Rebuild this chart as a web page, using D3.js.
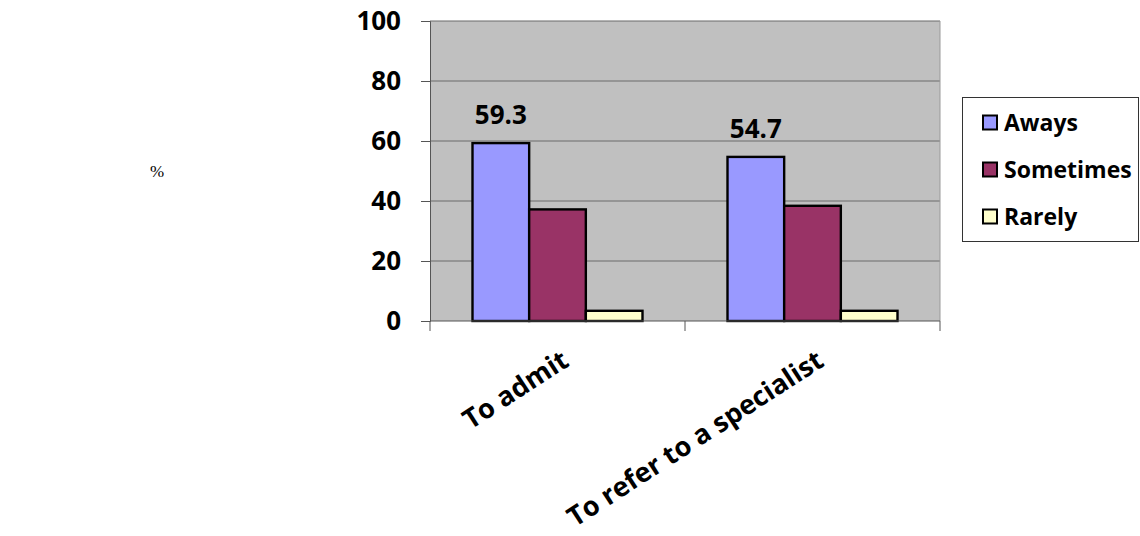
<!DOCTYPE html>
<html><head><meta charset="utf-8">
<script src="https://cdn.jsdelivr.net/npm/d3@7"></script>
<style>body{margin:0;background:#fff}svg{display:block}</style>
</head><body>
<svg id="c" width="1140" height="536"></svg>
<script>
const categories = ["To admit", "To refer to a specialist"];
const seriesNames = ["Aways", "Sometimes", "Rarely"];
const always = [59.3, 54.7];
const sometimes = [37.2, 38.4];
const rarely = [3.4, 3.4];
const yTicks = [0, 20, 40, 60, 80, 100];
const colors = ["#9999FF", "#993366", "#FFFFCC"];
const seriesValues = [always, sometimes, rarely];

const svg = d3.select("#c");
const font = "'Open Sans', sans-serif";
const L = 430, R = 940, T = 21, B = 321;

const y = d3.scaleLinear().domain([0, 100]).range([B, T]);
const x0 = d3.scaleBand().domain(categories).range([L, R]).paddingInner(1/3).paddingOuter(1/6);
const x1 = d3.scaleBand().domain(seriesNames).range([0, x0.bandwidth()]);
const xFull = d3.scaleBand().domain(categories).range([L, R]);

// plot background
svg.append("rect").attr("x", L).attr("y", T).attr("width", R - L).attr("height", B - T).attr("fill", "#C0C0C0");

// gridlines
svg.append("g").selectAll("line").data(yTicks.filter(d => d > 0)).join("line")
  .attr("x1", L).attr("x2", R).attr("y1", d => y(d)).attr("y2", d => y(d))
  .attr("stroke", "#6a6a6a").attr("stroke-width", 1.2);
svg.append("line").attr("x1", R).attr("x2", R).attr("y1", T).attr("y2", B).attr("stroke", "#9a9a9a");

// y axis
const yAxis = svg.append("g").attr("transform", `translate(${L},0)`)
  .call(d3.axisLeft(y).tickValues(yTicks).tickSize(9).tickPadding(20).tickFormat(d3.format("d")));
yAxis.select(".domain").attr("stroke", "#555");
yAxis.selectAll(".tick line").attr("stroke", "#555");
yAxis.selectAll("text").attr("font-family", font).attr("font-weight", "bold").attr("font-size", "26px").attr("fill", "#000");

// bars
const groups = svg.append("g").selectAll("g").data(categories).join("g")
  .attr("transform", d => `translate(${x0(d)},0)`);
groups.selectAll("rect").data((c, i) => seriesNames.map((s, j) => ({ s, v: seriesValues[j][i], j })))
  .join("rect")
  .attr("x", d => x1(d.s)).attr("width", x1.bandwidth())
  .attr("y", d => y(d.v)).attr("height", d => y(0) - y(d.v))
  .attr("fill", d => colors[d.j]).attr("stroke", "#000").attr("stroke-width", 2.4);

// x axis
const xAxis = svg.append("g").attr("transform", `translate(0,${B})`);
xAxis.append("line").attr("x1", L).attr("x2", R).attr("stroke", "#555");
const xTickPos = [L].concat(categories.map(c => xFull(c) + xFull.bandwidth()));
xAxis.selectAll("line.t").data(xTickPos).join("line").attr("class", "t")
  .attr("x1", d => d).attr("x2", d => d).attr("y1", 0).attr("y2", 10).attr("stroke", "#555");
xAxis.selectAll("text").data(categories).join("text")
  .attr("transform", d => `translate(${xFull(d) + xFull.bandwidth() / 2 + 13},${44}) rotate(-33)`)
  .attr("text-anchor", "end")
  .attr("font-family", font).attr("font-weight", "bold").attr("font-size", "27px").text(d => d);

// data labels for first series
svg.append("g").selectAll("text").data(categories).join("text")
  .attr("x", (d) => x0(d) + x1("Aways") + x1.bandwidth() / 2)
  .attr("y", (d, i) => y(always[i]) - 19)
  .attr("text-anchor", "middle")
  .attr("font-family", font).attr("font-weight", "bold").attr("font-size", "26px")
  .text((d, i) => always[i].toFixed(1));

// legend
const lg = svg.append("g");
lg.append("rect").attr("x", 962.5).attr("y", 97.5).attr("width", 176).attr("height", 144)
  .attr("fill", "#fff").attr("stroke", "#333");
const ly = d3.scalePoint().domain(seriesNames).range([122, 216]);
const items = lg.selectAll("g").data(seriesNames).join("g").attr("transform", d => `translate(0,${ly(d)})`);
items.append("rect").attr("x", 983).attr("y", -6.5).attr("width", 14).attr("height", 14)
  .attr("fill", (d, i) => colors[i]).attr("stroke", "#000").attr("stroke-width", 2);
items.append("text").attr("x", 1004).attr("y", 1).attr("dy", "0.35em")
  .attr("font-family", font).attr("font-weight", "bold").attr("font-size", "23px").text(d => d);

// y title
svg.append("text").attr("x", 157).attr("y", 171).attr("text-anchor", "middle").attr("dy", "0.35em")
  .attr("font-family", "'Liberation Serif', serif").attr("font-size", "17px").text("%");
</script>
</body></html>
